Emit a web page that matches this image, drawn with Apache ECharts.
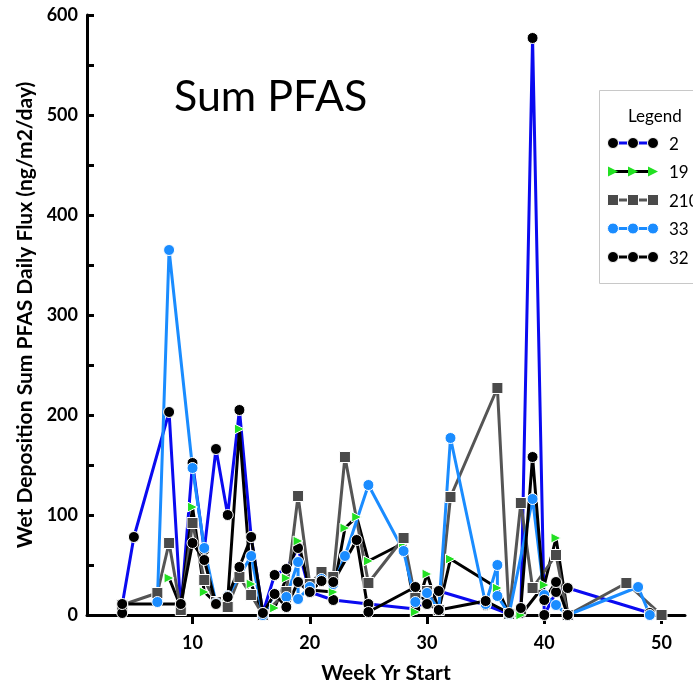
<!DOCTYPE html>
<html><head><meta charset="utf-8">
<script src="https://cdn.jsdelivr.net/npm/echarts@6/dist/echarts.min.js"></script>
<style>html,body{margin:0;padding:0;background:#fff}#c{width:693px;height:689px}</style>
</head><body><div id="c"></div>
<script>
// ---- data (week, daily flux) ----
const seriesNames = ['2', '19', '210', '33', '32'];

const weeks2 = [4,5,8,9,10,11,12,13,14,15,16,17,18,19,20,22,25,29,31,35,37,38,39,40,41,42,49];
const flux2  = [10,78,203,5,152,65,166,100,205,78,2,40,46,67,23,15,11,6,24,10,1,2,577,0,23,27,2];

const weeks19 = [8,9,10,11,12,13,14,15,16,17,18,19,20,22,23,24,25,28,29,30,31,32,36,37,38,40,41,42];
const flux19  = [37,8,108,23,12,15,186,31,1,7,37,74,25,23,87,98,54,72,3,41,5,56,27,1,0,30,77,1];

const weeks210 = [4,7,8,9,10,11,12,13,14,15,16,18,19,20,21,22,23,25,28,29,30,31,32,36,37,38,39,41,42,47,50];
const flux210  = [10,22,72,5,92,35,13,8,38,20,0,23,119,31,43,38,158,32,77,17,24,5,118,227,1,112,27,60,0,32,0];

const weeks33 = [7,8,10,11,12,13,15,16,17,18,19,19,20,21,22,23,25,28,29,30,31,32,35,36,36,37,39,40,41,42,48,49];
const flux33  = [13,365,147,67,12,19,59,0,21,18,53,16,28,36,31,59,130,64,13,22,5,177,11,50,19,1,116,20,10,0,28,0];

const weeks32 = [4,4,9,10,11,12,13,14,15,16,17,18,19,20,21,22,24,25,29,30,31,35,37,38,39,40,41,42];
const flux32  = [2,11,11,72,55,11,18,48,78,2,21,8,33,23,34,33,75,3,28,11,5,14,2,7,158,15,33,0];

const xTickValues = [10, 20, 30, 40, 50];

function zip(w, v) { return w.map((x, i) => [x, v[i]]); }

const FONT = 'Lato';
const chart = echarts.init(document.getElementById('c'));
const triRight = 'path://M0,0 L10,5 L0,10 Z';

const styles = [
  { line: '#0a0af0', sym: 'circle', col: '#000000', size: 11 },
  { line: '#000000', sym: triRight, col: '#22e022', size: 10 },
  { line: '#555555', sym: 'rect', col: '#4a4a4a', size: 11 },
  { line: '#1a8cff', sym: 'circle', col: '#1a8cff', size: 11 },
  { line: '#000000', sym: 'circle', col: '#000000', size: 11 }
];
const dataSets = [[weeks2, flux2], [weeks19, flux19], [weeks210, flux210], [weeks33, flux33], [weeks32, flux32]];

function mk(i) {
  const s = styles[i];
  return {
    name: seriesNames[i], type: 'line', data: zip(dataSets[i][0], dataSets[i][1]),
    symbol: s.sym, symbolSize: s.size, showSymbol: true,
    lineStyle: { color: s.line, width: 3 },
    itemStyle: { color: s.col, borderColor: '#ffffff', borderWidth: 1, opacity: 1 },
    emphasis: { disabled: true },
    animation: false, clip: false
  };
}

// legend icons (three markers joined by line) drawn as decoration
const rowY = [143, 171.5, 200, 228.5, 257];
const mx = [613, 633, 653];
const legendIcons = [];
rowY.forEach((y, i) => {
  const s = styles[i];
  legendIcons.push({ type: 'line', shape: { x1: mx[0], y1: y, x2: mx[2], y2: y },
    style: { stroke: s.line, lineWidth: 3 }, z: 5, silent: true });
  mx.forEach(x => {
    if (s.sym === 'circle') {
      legendIcons.push({ type: 'circle', shape: { cx: x, cy: y, r: 5.5 },
        style: { fill: s.col, stroke: '#fff', lineWidth: 1 }, z: 6, silent: true });
    } else if (s.sym === 'rect') {
      legendIcons.push({ type: 'rect', shape: { x: x - 5.5, y: y - 5.5, width: 11, height: 11 },
        style: { fill: s.col, stroke: '#fff', lineWidth: 1 }, z: 6, silent: true });
    } else {
      legendIcons.push({ type: 'polygon', shape: { points: [[x - 5, y - 5], [x + 5, y], [x - 5, y + 5]] },
        style: { fill: s.col }, z: 6, silent: true });
    }
  });
});

chart.setOption({
  animation: false,
  backgroundColor: '#ffffff',
  title: [
    { text: 'Sum PFAS', left: 169, top: 71,
      textStyle: { fontFamily: FONT, fontSize: 43, fontWeight: 'normal', color: '#000' } },
    { text: 'Legend', left: 623, top: 103,
      textStyle: { fontFamily: FONT, fontSize: 17, fontWeight: 'normal', color: '#000' } }
  ],
  graphic: [
    { type: 'rect', shape: { x: 599.5, y: 90.5, width: 130, height: 193 },
      style: { fill: '#ffffff', stroke: '#c8c8c8', lineWidth: 1 }, z: 1, silent: true }
  ].concat(legendIcons),
  legend: {
    data: seriesNames, orient: 'vertical', left: 608, top: 131,
    itemWidth: 50, itemHeight: 12, itemGap: 11.5,
    itemStyle: { opacity: 0 }, lineStyle: { opacity: 0 },
    textStyle: { fontFamily: FONT, fontSize: 17, color: '#000' },
    selectedMode: false
  },
  grid: { left: 87, right: 8, top: 15, bottom: 73, containLabel: false },
  xAxis: {
    type: 'value', min: 1, max: 52,
    name: 'Week Yr Start', nameLocation: 'middle', nameGap: 48,
    nameTextStyle: { fontFamily: FONT, fontSize: 21, fontWeight: 'bold', color: '#000' },
    axisLine: { show: true, lineStyle: { color: '#000', width: 3 } },
    axisTick: { show: true, length: 9, lineStyle: { color: '#000', width: 3 }, customValues: xTickValues },
    axisLabel: { customValues: xTickValues, fontFamily: FONT, fontSize: 18, fontWeight: 'bold', color: '#000', margin: 19 },
    splitLine: { show: false }
  },
  yAxis: {
    type: 'value', min: 0, max: 600, interval: 50,
    name: 'Wet Deposition Sum PFAS Daily Flux (ng/m2/day)', nameLocation: 'middle', nameGap: 49,
    nameTextStyle: { fontFamily: FONT, fontSize: 21, fontWeight: 'bold', color: '#000' },
    axisLine: { show: true, lineStyle: { color: '#000', width: 3 } },
    axisTick: { show: true, inside: true, length: 7, lineStyle: { color: '#000', width: 3 } },
    axisLabel: { fontFamily: FONT, fontSize: 18, fontWeight: 'bold', color: '#000', margin: 9,
      formatter: v => (v % 100 === 0 ? String(v) : '') },
    splitLine: { show: false }
  },
  series: [0, 1, 2, 3, 4].map(mk)
});
</script>
</body></html>
